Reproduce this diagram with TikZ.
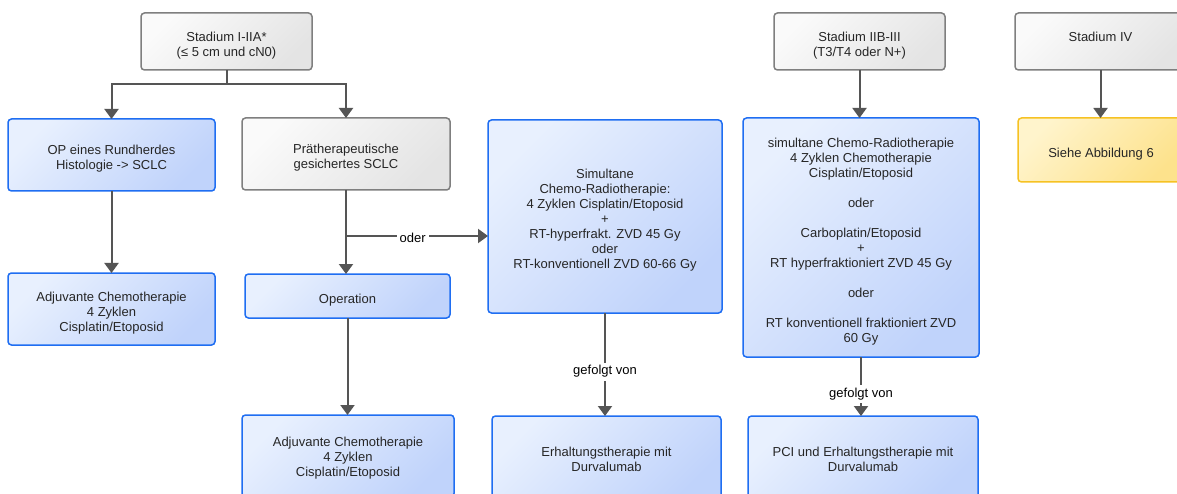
\documentclass[tikz,border=0pt]{standalone}
\usepackage{fontspec}
\setmainfont{Liberation Sans}
\usetikzlibrary{arrows.meta}
\definecolor{txt}{HTML}{262626}
\definecolor{wire}{HTML}{555555}
\definecolor{blueA}{HTML}{E8F0FE}
\definecolor{blueB}{HTML}{C0D3FB}
\definecolor{blueL}{HTML}{1F6EF2}
\definecolor{grayA}{HTML}{FAFAFA}
\definecolor{grayB}{HTML}{E4E4E4}
\definecolor{grayL}{HTML}{7F7F7F}
\definecolor{yelA}{HTML}{FFF4CC}
\definecolor{yelB}{HTML}{FDE28C}
\definecolor{yelL}{HTML}{F6C223}
% raised first line: puts the text block a little below the box centre
\newcommand{\topgap}[1][17pt]{\rule{0pt}{#1}}
\tikzset{
  box/.style={rectangle, rounded corners=3.5pt, line width=1.5pt, inner sep=0pt,
    outer sep=0pt, align=center, text=txt,
    font=\fontsize{13}{15}\selectfont},
  bluebox/.style={box, draw=blueL, top color=blueA, bottom color=blueB, shading angle=45},
  graybox/.style={box, draw=grayL, top color=grayA, bottom color=grayB, shading angle=45},
  yelbox/.style={box, draw=yelL, top color=yelA, bottom color=yelB, shading angle=45},
  arr/.style={draw=wire, line width=2pt, -{Triangle[width=14pt,length=10pt]}},
  lbl/.style={fill=white, text=black, inner sep=3pt, font=\fontsize{13}{15}\selectfont},
}
\begin{document}
\begin{tikzpicture}[x=1pt, y=-1pt]
\useasboundingbox (0,0) rectangle (1177,494);
\fill[white] (0,0) rectangle (1177,494);
\clip (0,0) rectangle (1177,494);

% stage headers
\node[graybox, minimum width=171pt, minimum height=57pt] (S1) at (226.5,41.5)
  {\topgap Stadium I-IIA*\\(≤ 5 cm und cN0)};
\node[graybox, minimum width=171pt, minimum height=57pt] (S2) at (859.5,41.5)
  {\topgap Stadium IIB-III\\(T3/T4 oder N+)};
\node[graybox, minimum width=171pt, minimum height=57pt] (S3) at (1100.5,41.5)
  {\topgap Stadium IV\\\phantom{(}};

% stage I-IIA branch
\node[bluebox, minimum width=207pt, minimum height=72pt] (A1) at (111.5,155)
  {\topgap OP eines Rundherdes\\Histologie -> SCLC};
\node[bluebox, minimum width=207pt, minimum height=72pt] (A2) at (111.5,309)
  {\topgap Adjuvante Chemotherapie\\4 Zyklen\\Cisplatin/Etoposid};
\node[graybox, minimum width=208pt, minimum height=72pt] (B1) at (346,154)
  {\topgap Prätherapeutische\\gesichertes SCLC};
\node[bluebox, minimum width=205pt, minimum height=44pt] (B2) at (347.5,296)
  {\topgap Operation};
\node[bluebox, minimum width=212pt, minimum height=82pt] (B3) at (348,456)
  {\topgap[13pt]Adjuvante Chemotherapie\\4 Zyklen\\Cisplatin/Etoposid};
\node[bluebox, minimum width=234pt, minimum height=193pt] (C1) at (605,216.5)
  {\topgap Simultane\\Chemo-Radiotherapie:\\4 Zyklen Cisplatin/Etoposid\\+\\RT-hyperfrakt. ZVD 45 Gy\\oder\\RT-konventionell ZVD 60-66 Gy};
\node[bluebox, minimum width=229pt, minimum height=85pt] (C2) at (606.5,458.5)
  {\topgap[11pt]Erhaltungstherapie mit\\Durvalumab};

% stage IIB-III branch
\node[bluebox, minimum width=236pt, minimum height=239pt] (D1) at (861,237.5)
  {\topgap simultane Chemo-Radiotherapie\\4 Zyklen Chemotherapie\\Cisplatin/Etoposid\\[15pt]oder\\[15pt]Carboplatin/Etoposid\\+\\RT hyperfraktioniert ZVD 45 Gy\\[15pt]oder\\[15pt]RT konventionell fraktioniert ZVD\\60 Gy};
\node[bluebox, minimum width=230pt, minimum height=85pt] (D2) at (863,458.5)
  {\topgap[11pt]PCI und Erhaltungstherapie mit\\Durvalumab};

% stage IV
\node[yelbox, minimum width=166pt, minimum height=64pt] (E1) at (1101,150)
  {\topgap Siehe Abbildung 6};

% connectors
\coordinate (split) at (226.5,84);
\draw[arr] (S1.south) -- (split) -| (A1.north);
\draw[arr] (split) -| (B1.north);
\draw[arr] (A1.south) -- (A2.north);
\draw[arr] (B1.south) -- (B1.south |- B2.north);
\coordinate (fork) at (346,236);
\draw[arr] (fork) -- node[lbl, pos=0.47, yshift=-1.5pt]{oder} (C1.west |- fork);
\draw[arr] (B2.south) -- (B2.south |- B3.north);
\draw[arr] (C1.south) -- node[lbl, pos=0.54, yshift=-3pt]{gefolgt von} (C1.south |- C2.north);
\draw[arr] (D1.south) -- node[lbl, pos=0.58, yshift=-3pt]{gefolgt von} (D1.south |- D2.north);
\draw[arr] (S2.south) -- (S2.south |- D1.north);
\draw[arr] (S3.south) -- (S3.south |- E1.north);
\end{tikzpicture}
\end{document}
